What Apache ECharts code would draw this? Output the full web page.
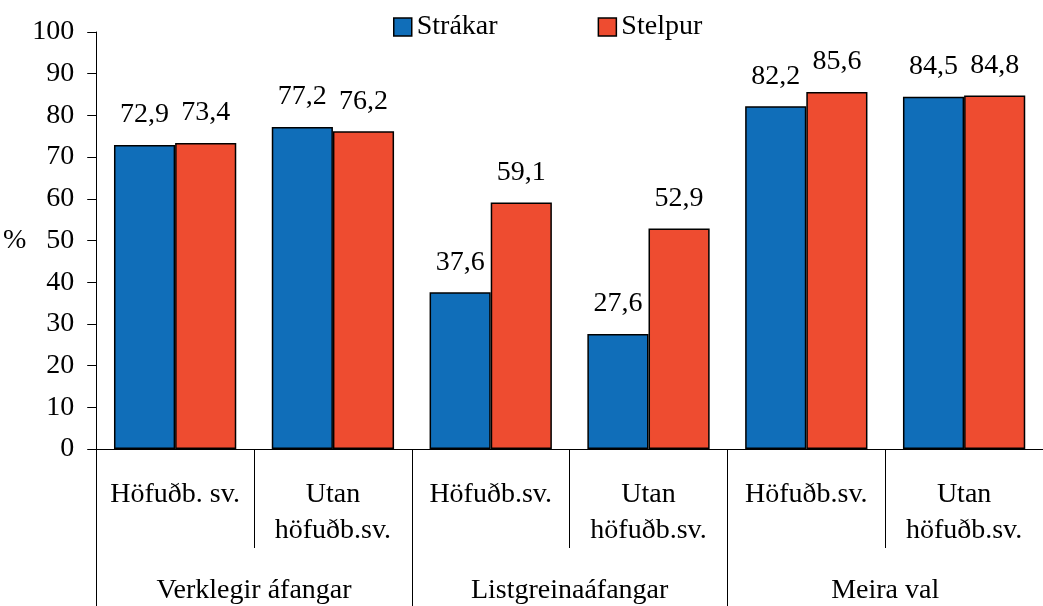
<!DOCTYPE html>
<html>
<head>
<meta charset="utf-8">
<script src="https://cdn.jsdelivr.net/npm/echarts@6/dist/echarts.min.js"></script>
<style>
  html, body { margin: 0; padding: 0; background: #fff; }
  #chart { width: 1043px; height: 606px; }
</style>
</head>
<body>
<div id="chart"></div>
<script>
var subCats = ['Höfuðb. sv.', 'Utan\nhöfuðb.sv.', 'Höfuðb.sv.', 'Utan\nhöfuðb.sv.', 'Höfuðb.sv.', 'Utan\nhöfuðb.sv.'];
var mainCats = ['Verklegir áfangar', 'Listgreinaáfangar', 'Meira val'];
var strakar = [72.9, 77.2, 37.6, 27.6, 82.2, 84.5];
var stelpur = [73.4, 76.2, 59.1, 52.9, 85.6, 84.8];

var font = '"Liberation Serif", "Times New Roman", serif';
var fmt = function (p) { return p.value.toFixed(1).replace('.', ','); };

var myChart = echarts.init(document.getElementById('chart'));

var option = {
    animation: false,
    textStyle: { fontFamily: font, color: '#000' },
    legend: {
        top: 8,
        left: 388,
        itemWidth: 18,
        itemHeight: 18,
        itemGap: 100,
        icon: 'rect',
        itemStyle: { borderColor: '#000', borderWidth: 1.5 },
        textStyle: { fontFamily: font, fontSize: 28, color: '#000' },
        data: ['Strákar', 'Stelpur']
    },
    grid: { left: 95, top: 32, bottom: 157, width: 953 },
    xAxis: [
        {
            type: 'category',
            data: subCats,
            axisLine: { show: true, lineStyle: { color: '#000', width: 1 } },
            axisTick: { show: true, interval: 0, length: 99, lineStyle: { color: '#000' } },
            axisLabel: { margin: 28, fontSize: 28, lineHeight: 36, color: '#000', fontFamily: font, interval: 0 }
        },
        {
            type: 'category',
            position: 'bottom',
            data: mainCats,
            axisLine: { show: false },
            axisTick: { show: true, interval: 0, length: 157, lineStyle: { color: '#000' } },
            axisLabel: { margin: 128, fontSize: 28, color: '#000', fontFamily: font, interval: 0 }
        }
    ],
    yAxis: {
        type: 'value',
        min: 0,
        max: 100,
        interval: 10,
        name: '%',
        nameLocation: 'middle',
        nameRotate: 0,
        nameGap: 66,
        nameTextStyle: { fontSize: 28, color: '#000', fontFamily: font },
        axisLine: { show: true, lineStyle: { color: '#000' } },
        axisTick: { show: true, length: 9, lineStyle: { color: '#000' } },
        axisLabel: { margin: 22, fontSize: 28, color: '#000', fontFamily: font },
        splitLine: { show: false }
    },
    series: [
        {
            name: 'Strákar',
            type: 'bar',
            data: strakar,
            barGap: '0%',
            barCategoryGap: '22.5%',
            itemStyle: { color: '#106EB9', borderColor: '#000', borderWidth: 1.5 },
            label: { show: true, position: 'top', distance: 16, fontSize: 28, color: '#000', fontFamily: font, formatter: fmt }
        },
        {
            name: 'Stelpur',
            type: 'bar',
            data: stelpur,
            barGap: '0%',
            barCategoryGap: '22.5%',
            itemStyle: { color: '#EE4C30', borderColor: '#000', borderWidth: 1.5 },
            label: { show: true, position: 'top', distance: 16, fontSize: 28, color: '#000', fontFamily: font, formatter: fmt }
        }
    ]
};

myChart.setOption(option);
</script>
</body>
</html>
